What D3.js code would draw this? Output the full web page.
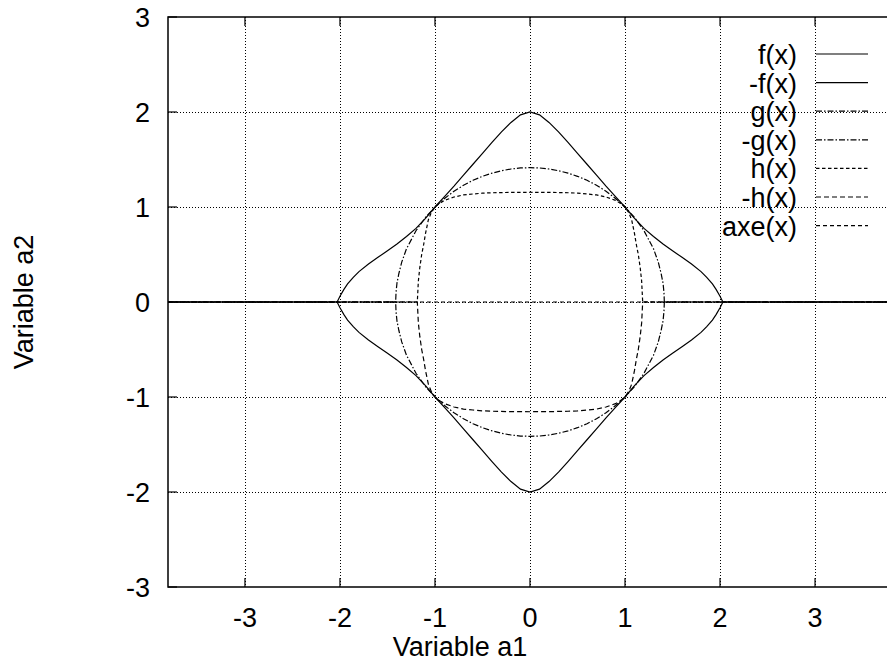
<!DOCTYPE html>
<html><head><meta charset="utf-8">
<script src="https://cdn.jsdelivr.net/npm/d3@7"></script>
<style>body{margin:0;background:#fff}svg{display:block}</style>
</head><body><svg id="c" width="887" height="663"></svg>
<script>
// ---- data ----
const xTicks = [-3,-2,-1,0,1,2,3];
const yTicks = [-3,-2,-1,0,1,2,3];
const xLabel = "Variable a1";
const yLabel = "Variable a2";
const legendNames = ["f(x)","-f(x)","g(x)","-g(x)","h(x)","-h(x)","axe(x)"];

const fX = [-3.81,-2.03,-2.0,-1.96,-1.92,-1.86,-1.8,-1.7,-1.6,-1.5,-1.4,-1.3,-1.2,-1.1,-1.0,-0.9,-0.8,-0.7,-0.6,-0.5,-0.4,-0.3,-0.2,-0.1,0,
            0.1,0.2,0.3,0.4,0.5,0.6,0.7,0.8,0.9,1.0,1.1,1.2,1.3,1.4,1.5,1.6,1.7,1.8,1.86,1.92,1.96,2.0,2.03,3.81];
const fY = [0,0,0.06,0.13,0.19,0.26,0.32,0.40,0.47,0.54,0.61,0.69,0.775,0.88,1.0,1.11,1.22,1.335,1.45,1.565,1.68,1.79,1.89,1.97,2.0,
            1.97,1.89,1.79,1.68,1.565,1.45,1.335,1.22,1.11,1.0,0.88,0.775,0.69,0.61,0.54,0.47,0.40,0.32,0.26,0.19,0.13,0.06,0,0];

const gX = [-3.81,-1.414,-1.41,-1.40,-1.38,-1.35,-1.3,-1.2,-1.1,-1.0,-0.9,-0.8,-0.7,-0.6,-0.5,-0.4,-0.3,-0.2,-0.1,0,
            0.1,0.2,0.3,0.4,0.5,0.6,0.7,0.8,0.9,1.0,1.1,1.2,1.3,1.35,1.38,1.40,1.41,1.414,3.81];
const gY = [0,0,0.1,0.2,0.3,0.42,0.56,0.75,0.89,1.0,1.09,1.166,1.229,1.281,1.323,1.356,1.382,1.4,1.411,1.414,
            1.411,1.4,1.382,1.356,1.323,1.281,1.229,1.166,1.09,1.0,0.89,0.75,0.56,0.42,0.3,0.2,0.1,0,0];

const hX = [-3.81,-1.186,-1.175,-1.16,-1.14,-1.12,-1.1,-1.07,-1.04,-1.0,-0.95,-0.9,-0.8,-0.7,-0.6,-0.5,-0.4,-0.2,0,
            0.2,0.4,0.5,0.6,0.7,0.8,0.9,0.95,1.0,1.04,1.07,1.1,1.12,1.14,1.16,1.175,1.186,3.81];
const hY = [0,0,0.22,0.36,0.50,0.60,0.72,0.865,0.94,1.0,1.04,1.07,1.105,1.127,1.137,1.146,1.15,1.154,1.155,
            1.154,1.15,1.146,1.137,1.127,1.105,1.07,1.04,1.0,0.94,0.865,0.72,0.60,0.50,0.36,0.22,0,0];

const axeX = [-3.81,3.81];
const axeY = [0,0];

// ---- drawing ----
const svg = d3.select("#c");
const FONT = "'Liberation Sans', Arial, Helvetica, sans-serif";
const L = 168, T = 17, B = 587, R = 892;
const x = d3.scaleLinear().domain([-3.81,3.81]).range([L,R]);
const y = d3.scaleLinear().domain([-3,3]).range([B,T]);

svg.append("rect").attr("width",887).attr("height",663).attr("fill","#fff");

svg.append("defs").append("clipPath").attr("id","clip")
  .append("rect").attr("x",L).attr("y",T).attr("width",R-L).attr("height",B-T);

// grid
const grid = svg.append("g").attr("stroke","#000").attr("stroke-width",1).attr("stroke-dasharray","1,2");
xTicks.forEach(t => grid.append("line")
  .attr("x1",Math.round(x(t))+0.5).attr("x2",Math.round(x(t))+0.5).attr("y1",T).attr("y2",B));
yTicks.filter(t => t>-3 && t<3).forEach(t => grid.append("line")
  .attr("y1",Math.round(y(t))+0.5).attr("y2",Math.round(y(t))+0.5).attr("x1",L).attr("x2",R));

// series
const series = [
  {xs:fX, ys:fY, s: 1, dash:null},
  {xs:fX, ys:fY, s:-1, dash:null},
  {xs:gX, ys:gY, s: 1, dash:"6,2,1.5,2"},
  {xs:gX, ys:gY, s:-1, dash:"6,2,1.5,2"},
  {xs:hX, ys:hY, s: 1, dash:"3.5,2.5"},
  {xs:hX, ys:hY, s:-1, dash:"5,3"},
  {xs:axeX, ys:axeY, s: 1, dash:"4,3"}
];
const line = d3.line().x(d => x(d[0])).y(d => y(d[1])).curve(d3.curveLinear);
const cg = svg.append("g").attr("clip-path","url(#clip)");
series.forEach(sr => {
  const pts = sr.xs.map((v,i) => [v, sr.s*sr.ys[i]]);
  cg.append("path").attr("d", line(pts)).attr("fill","none")
    .attr("stroke","#000").attr("stroke-width",1.2)
    .attr("stroke-dasharray", sr.dash);
});

// border
const bd = svg.append("g").attr("stroke","#000").attr("stroke-width",1.5).attr("fill","none");
bd.append("path").attr("d",`M${R},${T}H${L}V${B}H${R}`);

// ticks (inward, mirrored on top)
const tk = svg.append("g").attr("stroke","#000").attr("stroke-width",1.2);
xTicks.forEach(t => {
  tk.append("line").attr("x1",x(t)).attr("x2",x(t)).attr("y1",B).attr("y2",B-9);
  tk.append("line").attr("x1",x(t)).attr("x2",x(t)).attr("y1",T).attr("y2",T+9);
});
yTicks.forEach(t => {
  tk.append("line").attr("x1",L).attr("x2",L+9).attr("y1",y(t)).attr("y2",y(t));
});

// tick labels
const tl = svg.append("g").attr("font-family",FONT).attr("font-size",27).attr("fill","#000");
xTicks.forEach(t => tl.append("text").attr("x",x(t)).attr("y",627).attr("text-anchor","middle").text(t));
yTicks.forEach(t => tl.append("text").attr("x",150).attr("y",y(t)+10).attr("text-anchor","end").text(t));

// axis labels
tl.append("text").attr("x",460).attr("y",656).attr("text-anchor","middle").text(xLabel);
tl.append("text").attr("transform","translate(33,302) rotate(-90)").attr("text-anchor","middle").text(yLabel);

// legend
const lg = svg.append("g");
legendNames.forEach((n,i) => {
  const yy = 54 + i*28.6;
  lg.append("text").attr("x",797).attr("y",yy+10).attr("text-anchor","end")
    .attr("font-family",FONT).attr("font-size",27).attr("fill","#000").text(n);
  lg.append("line").attr("x1",816).attr("x2",868).attr("y1",yy).attr("y2",yy)
    .attr("stroke","#000").attr("stroke-width",1.2).attr("stroke-dasharray",series[i].dash);
});
</script>
</body></html>
